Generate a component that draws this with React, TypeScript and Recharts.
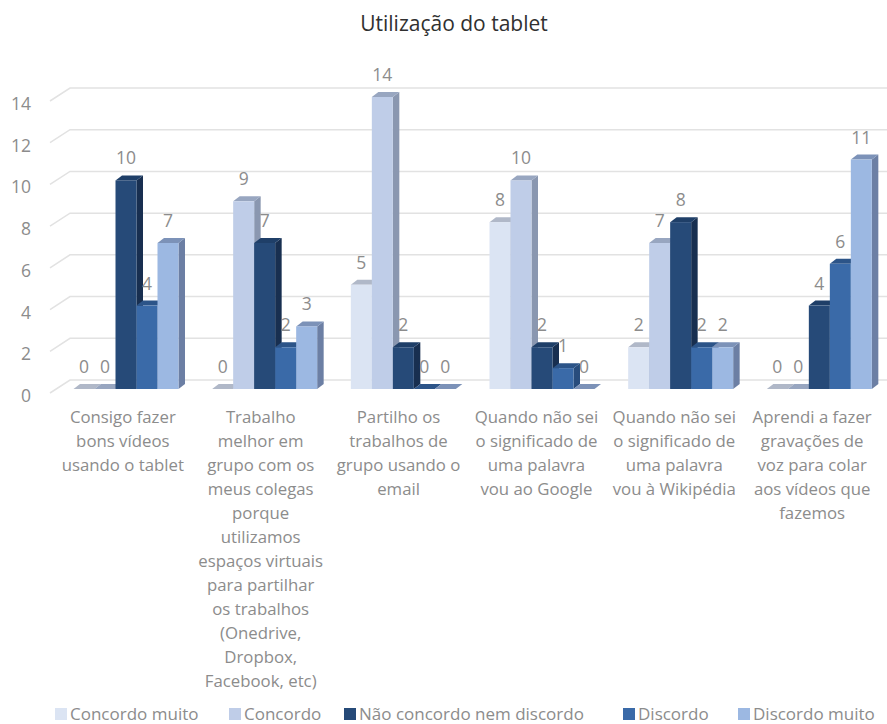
import React from "react";
import { BarChart, Bar, XAxis, YAxis, CartesianGrid, LabelList, Legend } from "recharts";

const title = "Utilização do tablet";
const categories = [
  "Consigo fazer\nbons vídeos\nusando o tablet",
  "Trabalho\nmelhor em\ngrupo com os\nmeus colegas\nporque\nutilizamos\nespaços virtuais\npara partilhar\nos trabalhos\n(Onedrive,\nDropbox,\nFacebook, etc)",
  "Partilho os\ntrabalhos de\ngrupo usando o\nemail",
  "Quando não sei\no significado de\numa palavra\nvou ao Google",
  "Quando não sei\no significado de\numa palavra\nvou à Wikipédia",
  "Aprendi a fazer\ngravações de\nvoz para colar\naos vídeos que\nfazemos",
];
const seriesNames = ["Concordo muito", "Concordo", "Não concordo nem discordo", "Discordo", "Discordo muito"];
const concordoMuito = [0, 0, 5, 8, 2, 0];
const concordo = [0, 9, 14, 10, 7, 0];
const naoConcordo = [10, 7, 2, 2, 8, 4];
const discordo = [4, 2, 0, 1, 2, 6];
const discordoMuito = [7, 3, 0, 0, 2, 11];
const seriesValues = [concordoMuito, concordo, naoConcordo, discordo, discordoMuito];
const yTicks = [0, 2, 4, 6, 8, 10, 12, 14];

const frontColors = ["#dbe4f3", "#bfcde8", "#264a78", "#3a6aa8", "#9cb8e2"];
const topColors = ["#b0b8c8", "#98a6c0", "#1f3f68", "#2c5488", "#7c92b8"];
const sideColors = ["#a8b0c0", "#8a97b0", "#182f50", "#284c7c", "#6c7fa4"];

const data = categories.map((c, i) => {
  const row: Record<string, string | number> = { category: c };
  seriesNames.forEach((n, s) => { row[n] = seriesValues[s][i]; });
  return row;
});

const FONT = "'Open Sans', sans-serif";
const GREY = "#8c8c8c";
const DX = 6.5;
const DY = 5;
const LIFT = 4;

const shape3d = (s: number) => (p: any) => {
  const { x, y, width, height } = p;
  const top = y - LIFT;
  const bottom = top + height;
  return (
    <g>
      <polygon points={`${x + width},${top} ${x + width + DX},${top - DY} ${x + width + DX},${bottom - DY} ${x + width},${bottom}`} fill={sideColors[s]} />
      <polygon points={`${x},${top} ${x + DX},${top - DY} ${x + width + DX},${top - DY} ${x + width},${top}`} fill={topColors[s]} />
      <rect x={x} y={top} width={width} height={height} fill={frontColors[s]} />
    </g>
  );
};

const gridLine = (p: any) => {
  const { y1 } = p;
  return (
    <g key={`g-${y1}`}>
      <polyline points={`50,${y1} 70,${y1 - 13} 887,${y1 - 13}`} fill="none" stroke="#e2e2e2" strokeWidth={1.5} />
    </g>
  );
};

const CategoryTick = (p: any) => {
  const lines = String(p.payload.value).split("\n");
  return (
    <text textAnchor="middle" fontFamily={FONT} fontSize={16.8} fill={GREY}>
      {lines.map((l: string, i: number) => (
        <tspan key={i} x={p.x - 3 - p.index * 0.8} y={423 + i * 24}>{l}</tspan>
      ))}
    </text>
  );
};

const YTick = (p: any) => (
  <text x={31} y={p.y + 9} textAnchor="end" fontFamily={FONT} fontSize={17.5} fill={GREY}>{p.payload.value}</text>
);

const legendContent = () => (
  <div style={{ position: "relative", height: 18, top: 11, fontFamily: FONT, fontSize: 17, color: GREY }}>
    {seriesNames.map((n, s) => (
      <span key={n} style={{ position: "absolute", left: [55, 229, 344, 623, 738][s], top: 0, whiteSpace: "nowrap", lineHeight: "18px" }}>
        <span style={{ display: "inline-block", width: 12, height: 12, background: frontColors[s], marginRight: 3 }} />
        {n}
      </span>
    ))}
  </div>
);

export default function App() {
  return (
    <div style={{ position: "absolute", left: 0, top: 0, width: 887, height: 724, background: "#fff", overflow: "hidden" }}>
      <div style={{ position: "absolute", top: 9, left: 0, width: 908, textAlign: "center", fontFamily: FONT, fontSize: 21, color: "#303030", lineHeight: "28px" }}>{title}</div>
      <BarChart width={889.5} height={724} data={data} barSize={21} barGap={0} barCategoryGap={33}
        margin={{ top: 101, right: 1, bottom: 0, left: 0 }}>
        <CartesianGrid vertical={false} horizontal={gridLine as any} />
        <XAxis dataKey="category" height={301} axisLine={false} tickLine={false} interval={0} tick={CategoryTick as any} />
        <YAxis width={56.5} domain={[0, 14]} ticks={yTicks} axisLine={false} tickLine={false} tick={YTick as any} />
        <Legend verticalAlign="bottom" content={legendContent as any} wrapperStyle={{ left: 0, width: 887, bottom: 0, height: 30 }} />
        {seriesNames.map((n, s) => (
          <Bar key={n} dataKey={n} isAnimationActive={false} shape={shape3d(s) as any}>
            <LabelList dataKey={n} position="top" offset={20} fontFamily={FONT} fontSize={17.5} fill={GREY} />
          </Bar>
        ))}
      </BarChart>
    </div>
  );
}
